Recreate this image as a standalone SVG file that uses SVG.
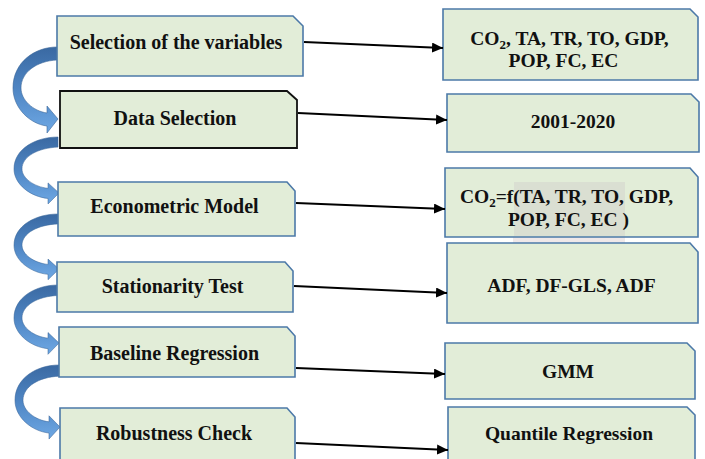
<svg xmlns="http://www.w3.org/2000/svg" width="705" height="459" viewBox="0 0 705 459">
<defs>
<linearGradient id="bandGrad" x1="0" y1="0" x2="0" y2="1">
<stop offset="0" stop-color="#3a69a2"/>
<stop offset="0.5" stop-color="#4f86c4"/>
<stop offset="1" stop-color="#6ea8e4"/>
</linearGradient>
<marker id="arrow" markerUnits="userSpaceOnUse" markerWidth="12" markerHeight="10" refX="11" refY="5" orient="auto">
<path d="M0,0 L11,5 L0,10 Z" fill="#000"/>
</marker>
<path id="curve" d="M0,0 C-22,0 -44,15 -44,41 C-44,61 -27,77 -10,79 L-10,86 L1,72 L-10,59 L-10,66 C-24,64 -36,53 -36,41 C-36,25 -20,14 0,13 Z"/>
</defs>
<style>
.box{fill:#e2edd8;stroke:#4c79a8;stroke-width:1.6}
.boxk{fill:#e2edd8;stroke:#111;stroke-width:1.8}
.t{font-family:"Liberation Serif","Times New Roman",serif;font-weight:bold;font-size:20px;fill:#111;text-anchor:middle}
.tr{font-family:"Liberation Serif","Times New Roman",serif;font-weight:bold;font-size:19.5px;fill:#111;text-anchor:middle}
.conn{stroke:#000;stroke-width:2;fill:none}
.band{fill:url(#bandGrad);stroke:#3a6699;stroke-width:0.6}
</style>
<rect width="705" height="459" fill="#fff"/>

<g id="flow-arrows">
<use href="#curve" class="band" transform="translate(57,47)"/>
<use href="#curve" class="band" transform="translate(58,137) scale(1,0.778)"/>
<use href="#curve" class="band" transform="translate(58,214) scale(1,0.764)"/>
<use href="#curve" class="band" transform="translate(58,285) scale(1,0.806)"/>
<use href="#curve" class="band" transform="translate(59,365) scale(1,0.861)"/>
</g>

<g id="node-selection-variables">
<path class="box" d="M57,16 H293 L303,26 V76 H57 Z"/>
<text class="t" x="176" y="48.5">Selection of the variables</text>
</g>
<g id="node-data-selection">
<path class="boxk" d="M60,91 H287 L297,100 V148 H60 Z"/>
<text class="t" x="175" y="125">Data Selection</text>
</g>
<g id="node-econometric-model">
<path class="box" d="M58,182 H287 L295,191 V236 H58 Z"/>
<text class="t" x="174.5" y="213">Econometric Model</text>
</g>
<g id="node-stationarity-test">
<path class="box" d="M57,262 H285 L293,271 V312 H57 Z"/>
<text class="t" x="172.5" y="293">Stationarity Test</text>
</g>
<g id="node-baseline-regression">
<path class="box" d="M59,327 H287 L295,336 V377 H59 Z"/>
<text class="t" x="174.5" y="360">Baseline Regression</text>
</g>
<g id="node-robustness-check">
<path class="box" d="M60,408 H287 L295,417 V470 H60 Z"/>
<text class="t" x="174" y="440">Robustness Check</text>
</g>

<g id="node-variables">
<path class="box" d="M443,9 H690 L698,17 V80 H443 Z"/>
<text class="tr" x="569.5" y="44.5">CO<tspan font-size="13" dy="4">2</tspan><tspan dy="-4">, TA, TR, TO, GDP,</tspan></text>
<text class="tr" x="563.5" y="66.5">POP, FC, EC</text>
</g>
<g id="node-period">
<path class="box" d="M447,94 H691 L699,102 V152 H447 Z"/>
<text class="tr" x="573" y="127.5">2001-2020</text>
</g>
<g id="node-model">
<rect x="513" y="237" width="112" height="10" fill="#efe8e9"/>
<path class="box" d="M445,168 H690 L698,177 V237 H445 Z"/>
<rect x="514" y="182" width="111" height="54" fill="#dadfd2"/>
<text class="tr" x="566.5" y="202.5">CO<tspan font-size="13" dy="4">2</tspan><tspan dy="-4">=f(TA, TR, TO, GDP,</tspan></text>
<text class="tr" x="568.5" y="225.5">POP, FC, EC )</text>
</g>
<g id="node-tests">
<path class="box" d="M447,243 H690 L698,252 V323 H447 Z"/>
<text class="tr" x="571.5" y="291.5">ADF, DF-GLS, ADF</text>
</g>
<g id="node-gmm">
<path class="box" d="M445,343 H687 L695,351 V399 H445 Z"/>
<text class="tr" x="568" y="377.5">GMM</text>
</g>
<g id="node-quantile">
<path class="box" d="M448,407 H687 L695,415 V470 H448 Z"/>
<text class="tr" x="569" y="439.5">Quantile Regression</text>
</g>

<g id="connectors">
<line class="conn" x1="304" y1="42" x2="443" y2="48" marker-end="url(#arrow)"/>
<line class="conn" x1="298" y1="113" x2="447" y2="120" marker-end="url(#arrow)"/>
<line class="conn" x1="296" y1="203" x2="445" y2="209" marker-end="url(#arrow)"/>
<line class="conn" x1="294" y1="286" x2="447" y2="293" marker-end="url(#arrow)"/>
<line class="conn" x1="296" y1="368" x2="445" y2="374" marker-end="url(#arrow)"/>
<line class="conn" x1="296" y1="443" x2="448" y2="450" marker-end="url(#arrow)"/>
</g>
</svg>
